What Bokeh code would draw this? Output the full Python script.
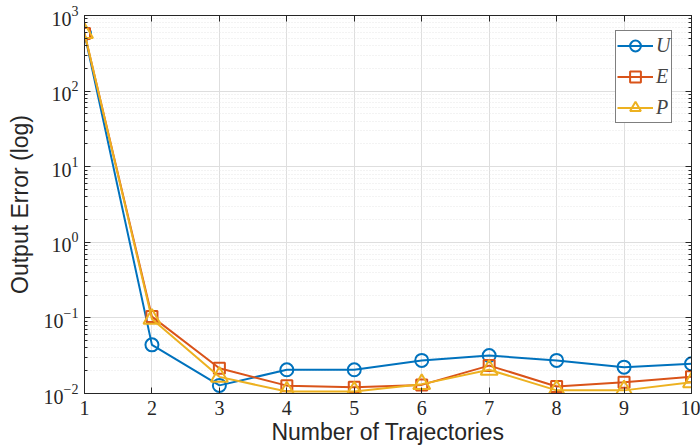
from bokeh.plotting import figure
from bokeh.models import FixedTicker, LinearAxis, CustomJSTickFormatter
from bokeh.embed import file_html
from bokeh.resources import INLINE

# ---- data ----
trajectories = [1, 2, 3, 4, 5, 6, 7, 8, 9, 10]
err_U = [575, 0.044, 0.0128, 0.0206, 0.0206, 0.0274, 0.0318, 0.0274, 0.0223, 0.0247]
err_E = [580, 0.104, 0.0216, 0.0127, 0.0121, 0.0130, 0.0234, 0.0124, 0.0141, 0.0166]
err_P = [585, 0.097, 0.0166, 0.0106, 0.0106, 0.0133, 0.0206, 0.0110, 0.0110, 0.0141]
x_ticks = [1, 2, 3, 4, 5, 6, 7, 8, 9, 10]
y_ticks = [0.01, 0.1, 1, 10, 100, 1000]

series_names = ["U", "E", "P"]
colors = ["#0072BD", "#D95319", "#EDB120"]
markers = ["circle", "square", "triangle"]
marker_sizes = [13, 11, 17]

AX = "#262626"
TICK_FONT = "Liberation Serif"
LABEL_FONT = "Liberation Sans"

p = figure(width=700, height=447, y_axis_type="log",
           x_range=(1, 10), y_range=(0.01, 1000),
           output_backend="svg", toolbar_location=None,
           min_border_left=84, min_border_right=9, min_border_top=15,
           min_border_bottom=54)
p.background_fill_color = "white"
p.border_fill_color = "white"
p.outline_line_color = AX
p.outline_line_width = 1

minor = []
for d in y_ticks[:-1]:
    for k in range(2, 10):
        minor.append(d * k)
yticker = FixedTicker(ticks=y_ticks, minor_ticks=minor)
xticker = FixedTicker(ticks=x_ticks, minor_ticks=[])

p.xaxis.ticker = xticker
p.yaxis.ticker = yticker
p.xgrid.ticker = xticker
p.ygrid.ticker = yticker

p.xgrid.grid_line_color = "#dedede"
p.ygrid.grid_line_color = "#dedede"
p.ygrid.minor_grid_line_color = "#e6e6e6"
p.ygrid.minor_grid_line_dash = "1 2"

for ax in [p.xaxis[0], p.yaxis[0]]:
    ax.axis_line_color = AX
    ax.major_tick_line_color = AX
    ax.minor_tick_line_color = AX
    ax.major_tick_in = 6
    ax.major_tick_out = 0
    ax.minor_tick_in = 3
    ax.minor_tick_out = 0
    ax.major_label_text_font = TICK_FONT
    ax.major_label_text_font_size = "20px"
    ax.major_label_text_color = AX
    ax.axis_label_text_font = LABEL_FONT
    ax.axis_label_text_font_size = "23px"
    ax.axis_label_text_font_style = "normal"
    ax.axis_label_text_color = AX

p.xaxis.axis_label = "Number of Trajectories"
p.yaxis.axis_label = "Output Error (log)"
p.xaxis.major_label_standoff = 7
p.xaxis.axis_label_standoff = 1
p.yaxis.major_label_standoff = 6
p.yaxis.axis_label_standoff = 8

# box axes (top / right), ticks only
blank = CustomJSTickFormatter(code="return ' ';")
top = LinearAxis(ticker=xticker, formatter=blank,
                 major_label_text_font_size="1px", major_label_text_color=None,
                 major_label_standoff=0, major_tick_in=6, major_tick_out=0,
                 minor_tick_in=0, minor_tick_out=0,
                 axis_line_color=AX, major_tick_line_color=AX)
right = LinearAxis(ticker=yticker, formatter=blank,
                   major_label_text_font_size="1px", major_label_text_color=None,
                   major_label_standoff=0, major_tick_in=6, major_tick_out=0,
                   minor_tick_in=3, minor_tick_out=0,
                   axis_line_color=AX, major_tick_line_color=AX,
                   minor_tick_line_color=AX)
p.add_layout(top, "above")
p.add_layout(right, "right")

all_series = [err_U, err_E, err_P]
for name, ys, col, mk, ms in zip(series_names, all_series, colors, markers, marker_sizes):
    p.line(trajectories, ys, line_color=col, line_width=2, legend_label=name)
    p.scatter(trajectories, ys, marker=mk, size=ms, line_color=col,
              line_width=2, fill_color=None, legend_label=name)

lg = p.legend[0]
lg.location = (531, 270)
lg.label_text_font = TICK_FONT
lg.label_text_font_style = "italic"
lg.label_text_font_size = "20px"
lg.label_standoff = 3
lg.label_width = 14
lg.label_height = 20
lg.glyph_width = 36
lg.glyph_height = 27
lg.spacing = 4
lg.padding = 1
lg.border_line_color = "black"
lg.border_line_width = 1
lg.background_fill_color = "white"
lg.background_fill_alpha = 1

open("out.html", "w").write(file_html(p, INLINE))
